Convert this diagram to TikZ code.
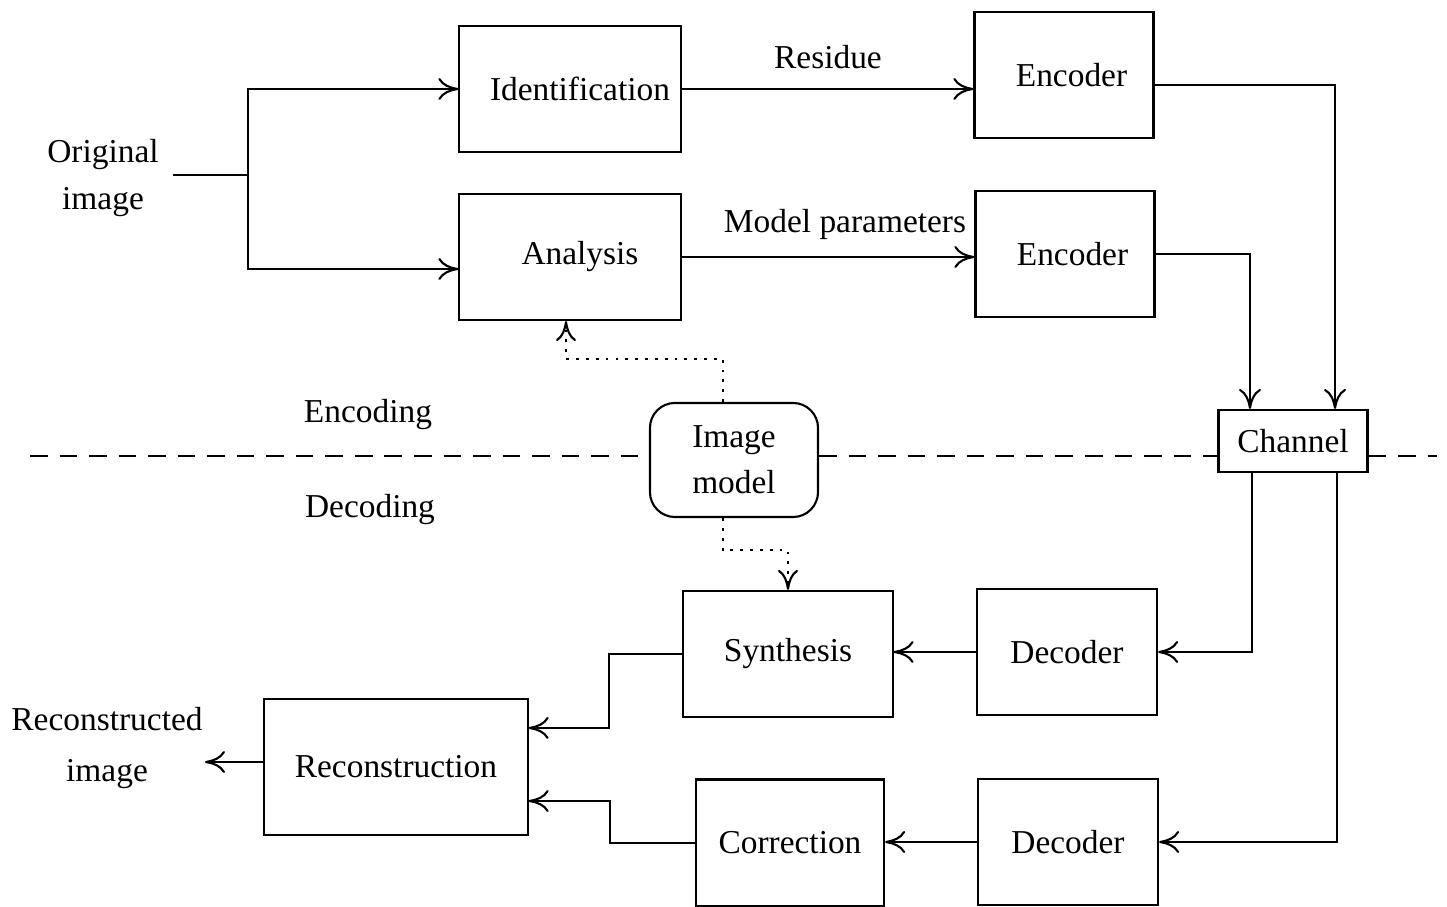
\documentclass[tikz,border=0pt]{standalone}
\usepackage{fontspec}
\setmainfont{Liberation Serif}
\usetikzlibrary{arrows.meta}

\tikzset{every path/.style={line width=0.6pt}}
\tikzset{blk/.style={draw,rectangle,inner sep=0pt,minimum height=1.26cm,font=\fontsize{9.5}{13}\selectfont}}
\tikzset{lbl/.style={align=center,inner sep=1pt,font=\fontsize{9.5}{12.5}\selectfont}}
\tikzset{sig/.style={->,>={To[length=2mm,width=2.2mm]}}}
\tikzset{mdl/.style={->,>={To[length=2mm,width=2mm]},dash pattern=on 0.8pt off 2pt}}

\begin{document}
\begin{tikzpicture}[x=0.01cm,y=-0.01cm]
    \useasboundingbox (0,0) rectangle (1447,907);
    % encoding side
    \node[lbl] (orig) at (103,178) {Original\\[1pt]image};
    \node[blk,minimum width=2.21cm] (ident) at (570,89) {\hspace*{0.2cm}Identification};
    \node[blk,minimum width=2.21cm] (anal) at (570,257) {\hspace*{0.2cm}Analysis};
    \node[blk,minimum width=1.79cm] (enc1) at (1064,75) {\hspace*{0.15cm}Encoder};
    \node[blk,minimum width=1.79cm] (enc2) at (1065,254) {\hspace*{0.15cm}Encoder};
    \node[lbl] (res) at (828,57) {Residue};
    \node[lbl] (par) at (845,224) {Model parameters};
    \node[lbl] (encl) at (368,415) {Encoding};
    \node[lbl] (decl) at (370,510) {Decoding};
    \node[blk,minimum width=1.49cm,minimum height=0.62cm] (chan) at (1293,441) {Channel};
    \node[blk,rounded corners=0.25cm,align=center,minimum width=1.68cm,minimum height=1.14cm] (model) at (734,460) {Image\\model};
    % decoding side
    \node[blk,minimum width=2.09cm] (synth) at (788,654) {Synthesis};
    \node[blk,minimum width=1.80cm] (dec1) at (1067,652) {Decoder};
    \node[blk,minimum width=2.63cm,minimum height=1.36cm] (recon) at (396,767) {Reconstruction};
    \node[blk,minimum width=1.88cm,minimum height=1.27cm] (corr) at (790,843) {Correction};
    \node[blk,minimum width=1.80cm] (dec2) at (1068,842) {Decoder};
    \node[lbl] (rimg) at (107,748) {Reconstructed\\[2pt]image};
    \coordinate (split) at (248,175);
    \coordinate (recout) at (205,762);
    \coordinate (dl) at (30,456);
    \coordinate (dr) at (1437,456);

    \draw (orig.east |- split) ++(0.1cm,0) -- (split);
    \draw[sig] (split) |- (ident.west);
    \draw[sig] (split) |- ([yshift=-0.12cm]anal.west);
    \draw[sig] (ident.east) -- (ident.east -| enc1.west);
    \draw[sig] (anal.east) -- (anal.east -| enc2.west);
    \draw[sig] ([yshift=-0.1cm]enc1.east) -| ([xshift=0.42cm]chan.north);
    \draw[sig] (enc2.east) -| ([xshift=-0.43cm]chan.north);
    \draw[sig] ([xshift=-0.41cm]chan.south) |- (dec1.east);
    \draw[sig] ([xshift=0.44cm]chan.south) |- (dec2.east);
    \draw[sig] (dec1.west) -- (dec1.west -| synth.east);
    \draw[sig] (dec2.west) -- (dec2.west -| corr.east);
    \draw[sig] (synth.west) -- ++(-0.73cm,0) |- ([yshift=0.39cm]recon.east);
    \draw[sig] (corr.west) -- ++(-0.85cm,0) |- ([yshift=-0.34cm]recon.east);
    \draw[sig] (recon.west |- recout) -- (recout);
    \draw[mdl] ([xshift=-0.11cm]model.north) -- ++(0,0.43cm) -| ([xshift=-0.04cm]anal.south);
    \draw[mdl] ([xshift=-0.11cm]model.south) -- ++(0,-0.32cm) -| (synth.north);
    \draw[dash pattern=on 5pt off 3.4pt] (dl) -- (dl -| model.west);
    \draw[dash pattern=on 5pt off 3.4pt] (model.east |- dl) -- (dl -| chan.west);
    \draw[dash pattern=on 5pt off 3.4pt] (chan.east |- dl) -- (dr);
  \end{tikzpicture}
\end{document}
